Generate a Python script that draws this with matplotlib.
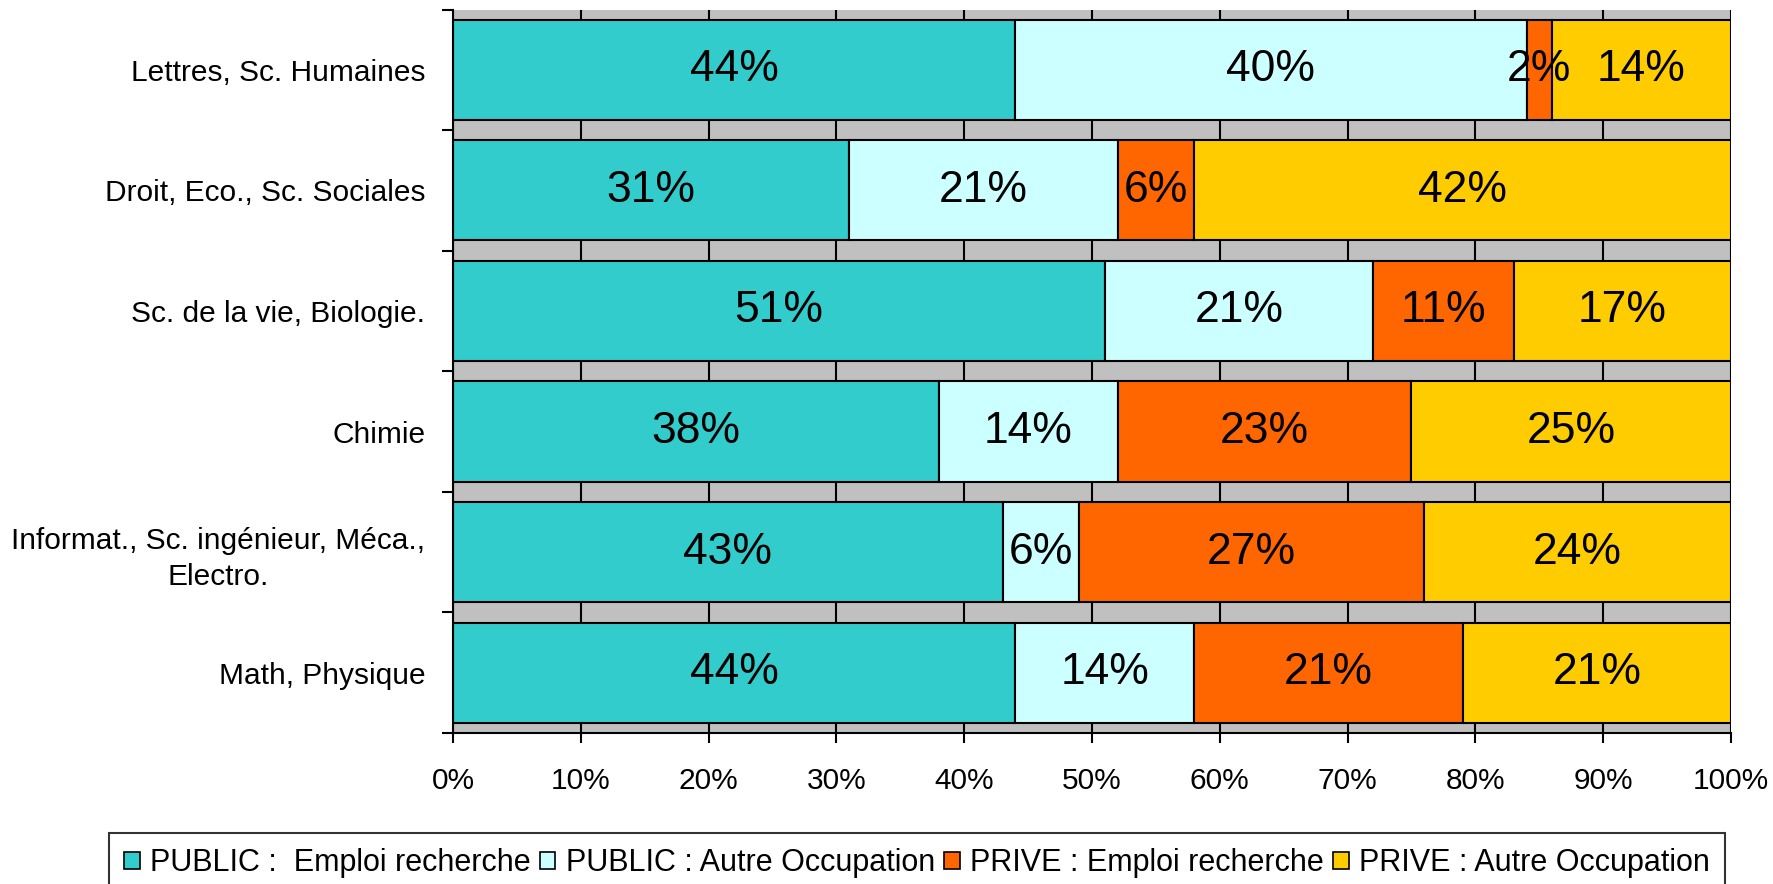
import matplotlib
matplotlib.use("Agg")
import matplotlib.pyplot as plt
import numpy as np
from matplotlib.patches import Patch

plt.rcParams['font.family'] = ['Liberation Sans', 'DejaVu Sans']

categories = ["Lettres, Sc. Humaines", "Droit, Eco., Sc. Sociales",
              "Sc. de la vie, Biologie.", "Chimie",
              "Informat., Sc. ingénieur, Méca.,\nElectro.", "Math, Physique"]
public_recherche = [44, 31, 51, 38, 43, 44]
public_autre = [40, 21, 21, 14, 6, 14]
prive_recherche = [2, 6, 11, 23, 27, 21]
prive_autre = [14, 42, 17, 25, 24, 21]
series_names = ["PUBLIC :  Emploi recherche", "PUBLIC : Autre Occupation",
                "PRIVE : Emploi recherche", "PRIVE : Autre Occupation"]
colors = ["#33CCCC", "#CCFFFF", "#FF6600", "#FFCC00"]
xticks = np.arange(0, 101, 10)
xticklabels = [f"{v}%" for v in xticks]

series = [public_recherche, public_autre, prive_recherche, prive_autre]

fig = plt.figure(figsize=(17.74, 8.84), dpi=100)
ax = fig.add_axes([453/1774, 1 - 733/884, (1731-453)/1774, (733-9.5)/884])
ax.set_facecolor("#C0C0C0")

n = len(categories)
y = np.arange(n)[::-1]
left = np.zeros(n)
for vals, col in zip(series, colors):
    vals = np.array(vals, dtype=float)
    ax.barh(y, vals, left=left, height=0.83, color=col, edgecolor="black",
            linewidth=1.5, zorder=3)
    for yi, l, v in zip(y, left, vals):
        ax.text(l + v / 2, yi, f"{int(v)}%", ha="center", va="center",
                fontsize=32, color="black", zorder=4)
    left += vals

ax.set_xlim(0, 100)
ax.set_ylim(-0.5, n - 0.5)
ax.set_xticks(xticks)
ax.set_xticklabels(xticklabels, fontsize=21.5)
ax.set_yticks(y)
ax.set_yticklabels(categories, fontsize=21.5)
for lab in ax.get_yticklabels():
    lab.set_multialignment("center")
    lab.set_linespacing(1.35)
ax.set_yticks(np.arange(-0.5, n, 1.0), minor=True)
ax.tick_params(axis="y", which="major", length=0, pad=20)
ax.tick_params(axis="y", which="minor", length=8, width=1.5, direction="out")
ax.tick_params(axis="x", which="major", length=7.5, width=1.5, direction="out", pad=17)
ax.xaxis.grid(True, color="black", linewidth=1.5, zorder=1)
ax.set_axisbelow(True)
for s in ["top", "right"]:
    ax.spines[s].set_visible(False)
for s in ["left", "bottom"]:
    ax.spines[s].set_linewidth(1.5)
    ax.spines[s].set_zorder(5)

handles = [Patch(facecolor=c, edgecolor="black", linewidth=1.2) for c in colors]
leg = fig.legend(handles, series_names, loc="upper left",
                 bbox_to_anchor=(109/1774, 1 - 833/884), ncol=4, fontsize=22,
                 frameon=True, fancybox=False, edgecolor="black",
                 handlelength=0.5, handleheight=0.5, handletextpad=0.35,
                 columnspacing=0.3, borderpad=0.5, borderaxespad=0)
leg.get_frame().set_linewidth(1.5)

fig.savefig("out.png", dpi=100)
